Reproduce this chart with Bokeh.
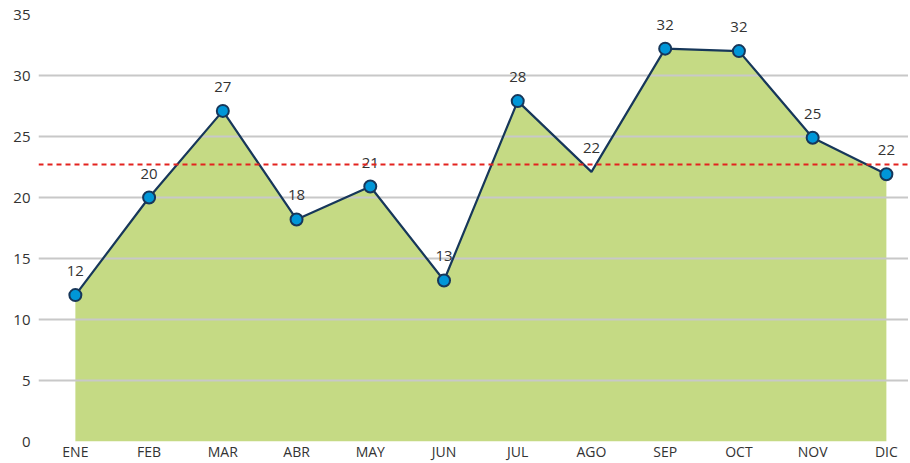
from bokeh.plotting import figure
from bokeh.models import ColumnDataSource, Range1d, Span, CDSView, BooleanFilter, FixedTicker
from bokeh.core.properties import value
from bokeh.embed import file_html
from bokeh.resources import INLINE

months = ["ENE", "FEB", "MAR", "ABR", "MAY", "JUN", "JUL", "AGO", "SEP", "OCT", "NOV", "DIC"]
values = [12.0, 20.0, 27.1, 18.2, 20.9, 13.2, 27.9, 22.1, 32.2, 32.0, 24.9, 21.9]
no_marker = ["AGO"]
y_ticks = [0, 5, 10, 15, 20, 25, 30, 35]

labels = [str(int(round(v))) for v in values]
average = sum(values) / len(values)
xpos = [i + 0.5 for i in range(len(months))]

src = ColumnDataSource(dict(x=xpos, y=values, lbl=labels))

FONT = "Open Sans"
TXT = "#333333"

p = figure(width=908, height=463, output_backend="svg", toolbar_location=None,
           x_range=Range1d(0, 11.8),
           y_range=Range1d(0, 35),
           min_border_top=14, min_border_right=0, min_border_left=38, min_border_bottom=0)
p.outline_line_color = None
p.background_fill_color = "white"

p.varea(x="x", y1=0, y2="y", source=src, fill_color="#b7d165", fill_alpha=0.8, level="image")
p.line(x="x", y="y", source=src, line_color="#17375a", line_width=2.2)
mask = [m not in no_marker for m in months]
p.scatter(x="x", y="y", source=src, view=CDSView(filter=BooleanFilter(mask)),
          size=12, fill_color="#0096d8", line_color="#17375a", line_width=2)
p.text(x="x", y="y", text="lbl", source=src, text_align="center", text_baseline="bottom",
       y_offset=-19, text_font_size="15px", text_color=TXT, text_font=value(FONT))

avg = Span(location=average, dimension="width", line_color="#e3231f", line_width=2, line_dash="5 4")
p.add_layout(avg)

p.xgrid.grid_line_color = None
p.ygrid.grid_line_color = "#c8c8c8"
p.ygrid.grid_line_width = 2
p.ygrid.ticker = y_ticks

for ax in (p.xaxis, p.yaxis):
    ax.axis_line_color = None
    ax.major_tick_line_color = None
    ax.minor_tick_line_color = None
    ax.major_tick_out = 0
    ax.major_tick_in = 0
    ax.minor_tick_out = 0
    ax.minor_tick_in = 0
    ax.major_label_text_font = FONT
    ax.major_label_text_color = TXT

p.yaxis.ticker = y_ticks
p.yaxis.major_label_text_font_size = "15px"
p.yaxis.major_label_standoff = 8

p.xaxis.ticker = FixedTicker(ticks=xpos, minor_ticks=[])
p.xaxis.major_label_overrides = {x: m for x, m in zip(xpos, months)}
p.xaxis.major_label_text_font_size = "14px"
p.xaxis.major_label_standoff = 0

open("out.html", "w").write(file_html(p, INLINE))
